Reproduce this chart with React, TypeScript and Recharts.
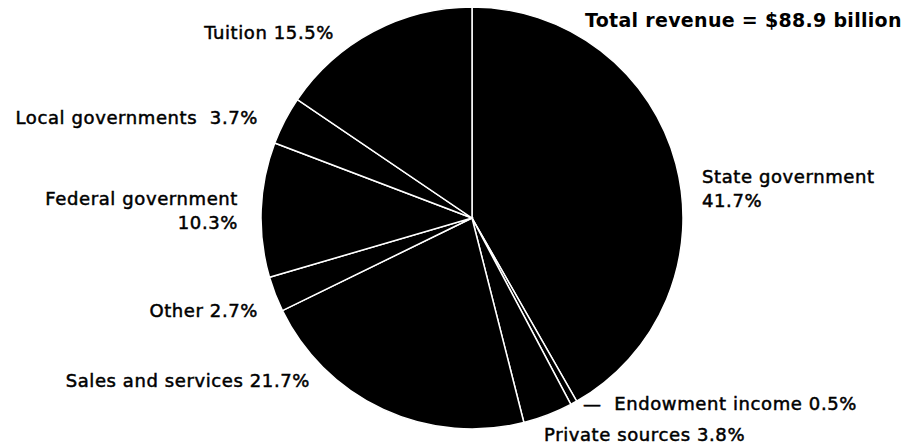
import { PieChart, Pie, Cell } from 'recharts';

// revenue shares, clockwise from 12 o'clock
const sources = [
  'State government',
  'Endowment income',
  'Private sources',
  'Sales and services',
  'Other',
  'Federal government',
  'Local governments',
  'Tuition',
];
const shares = [41.7, 0.5, 3.8, 21.7, 2.7, 10.3, 3.7, 15.5];
const labelLines = [
  ['State government', '41.7%'],
  ['—  Endowment income 0.5%'],
  ['Private sources 3.8%'],
  ['Sales and services 21.7%'],
  ['Other 2.7%'],
  ['Federal government', '10.3%'],
  ['Local governments  3.7%'],
  ['Tuition 15.5%'],
];
const title = 'Total revenue = $88.9 billion';

const data = sources.map((name, i) => ({ name, value: shares[i] }));

// where each label sits (anchor x, first baseline y, text-anchor)
const labelPos: [number, number, 'start' | 'end'][] = [
  [702, 183, 'start'],
  [583, 410, 'start'],
  [544, 441, 'start'],
  [310, 387, 'end'],
  [258, 317, 'end'],
  [238, 205, 'end'],
  [258, 124, 'end'],
  [334, 39, 'end'],
];

const FONT = '"DejaVu Sans", sans-serif';

const renderLabel = (props: any) => {
  const i = props.index;
  const [x, y, anchor] = labelPos[i];
  return (
    <text
      key={i}
      x={x}
      y={y}
      textAnchor={anchor}
      fill="#000"
      stroke="#000"
      strokeWidth={0.5}
      fontFamily={FONT}
      fontSize={18}
      letterSpacing={0.6}
      style={{ whiteSpace: 'pre' }}
    >
      {labelLines[i].map((line, j) => (
        <tspan key={j} x={x} dy={j === 0 ? 0 : 24}>
          {line}
        </tspan>
      ))}
    </text>
  );
};

export default function App() {
  return (
    <div style={{ position: 'absolute', left: 0, top: 0, width: 906, height: 446, background: '#fff' }}>
      <PieChart width={906} height={446} margin={{ top: 0, right: 0, bottom: 0, left: 0 }}>
        <Pie
          data={data}
          dataKey="value"
          nameKey="name"
          cx={472}
          cy={218}
          outerRadius={211}
          startAngle={90}
          endAngle={-270}
          stroke="#fff"
          strokeWidth={1.5}
          label={renderLabel}
          labelLine={false}
          isAnimationActive={false}
        >
          {data.map((d) => (
            <Cell key={d.name} fill="#000" />
          ))}
        </Pie>
      </PieChart>
      <div
        style={{
          position: 'absolute',
          left: 585,
          top: 7,
          fontFamily: FONT,
          fontSize: 19,
          fontWeight: 700,
          letterSpacing: 0.3,
          whiteSpace: 'nowrap',
          lineHeight: '26px',
        }}
      >
        {title}
      </div>
    </div>
  );
}
